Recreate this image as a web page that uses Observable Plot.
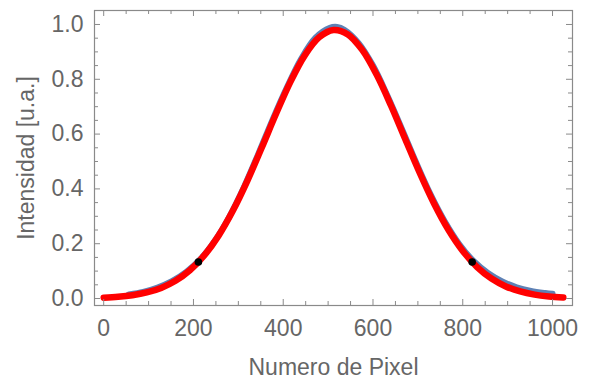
<!DOCTYPE html>
<html>
<head>
<meta charset="utf-8">
<script src="https://cdn.jsdelivr.net/npm/d3@7"></script>
<script src="https://cdn.jsdelivr.net/npm/@observablehq/plot@0.6"></script>
<style>
  html, body { margin: 0; padding: 0; background: #fff; }
  #chart svg { display: block; }
</style>
</head>
<body>
<div id="chart"></div>
<script>
// Measured data (blue)
const dataX = [56, 88, 120, 152, 184, 216, 248, 280, 312, 344, 376, 408, 440, 472, 504, 520, 536, 568, 600, 632, 664, 696, 728, 760, 792, 824, 856, 888, 920, 952, 984, 1000];
const dataY = [0.015, 0.024, 0.040, 0.063, 0.097, 0.145, 0.212, 0.299, 0.405, 0.526, 0.652, 0.770, 0.875, 0.952, 0.988, 0.991, 0.981, 0.932, 0.850, 0.741, 0.621, 0.497, 0.381, 0.281, 0.199, 0.137, 0.093, 0.062, 0.041, 0.028, 0.020, 0.017];

// Fitted curve (red)
const fitX = [0, 32, 64, 96, 128, 160, 192, 224, 256, 288, 320, 352, 384, 416, 448, 480, 512, 544, 576, 608, 640, 672, 704, 736, 768, 800, 832, 864, 896, 928, 960, 992, 1024];
const fitY = [0.0032, 0.0064, 0.0122, 0.0222, 0.0387, 0.0645, 0.1029, 0.1571, 0.2295, 0.3210, 0.4295, 0.5501, 0.6741, 0.7907, 0.8874, 0.9531, 0.9800, 0.9637, 0.9071, 0.8171, 0.7044, 0.5811, 0.4588, 0.3466, 0.2507, 0.1735, 0.1149, 0.0728, 0.0441, 0.0256, 0.0142, 0.0076, 0.0038];

// Marked points (black)
const markX = [211, 821];
const markY = [0.133, 0.133];

// Ticks
const xMajor = [0, 200, 400, 600, 800, 1000];
const xMinor = [50, 100, 150, 250, 300, 350, 450, 500, 550, 650, 700, 750, 850, 900, 950];
const yMajor = [0.0, 0.2, 0.4, 0.6, 0.8, 1.0];
const yMinor = [0.05, 0.1, 0.15, 0.25, 0.3, 0.35, 0.45, 0.5, 0.55, 0.65, 0.7, 0.75, 0.85, 0.9, 0.95];

const xLabel = "Numero de Pixel";
const yLabel = "Intensidad [u.a.]";

const W = 589, H = 381;
const mL = 94, mR = 17, mT = 10, mB = 76;
const iW = W - mL - mR, iH = H - mT - mB;
const gray = "#8a8a8a";
const txt = "#666666";
const fs = 23;

const fit = fitX.map((x, i) => ({x, y: fitY[i]}));
const meas = dataX.map((x, i) => ({x, y: dataY[i]}));
const marks = markX.map((x, i) => ({x, y: markY[i]}));

const chart = Plot.plot({
  width: W,
  height: H,
  marginLeft: mL,
  marginRight: mR,
  marginTop: mT,
  marginBottom: mB,
  style: {fontFamily: "'Liberation Sans', Arial, sans-serif", background: "#fff"},
  x: {domain: [-20.5, 1044.5]},
  y: {domain: [-0.0255, 1.051]},
  marks: [
    Plot.line(meas, {x: "x", y: "y", stroke: "#5E81B5", strokeWidth: 6, curve: "catmull-rom"}),
    Plot.line(fit, {x: "x", y: "y", stroke: "#FF0000", strokeWidth: 6.5, curve: "catmull-rom"}),
    Plot.dot(marks, {x: "x", y: "y", r: 3.8, fill: "black", stroke: "none"}),
    Plot.frame({stroke: gray, strokeWidth: 1.2}),
    // bottom ticks (inward)
    Plot.tickX(xMajor, {x: d => d, stroke: gray, insetTop: iH - 6}),
    Plot.tickX(xMinor, {x: d => d, stroke: gray, insetTop: iH - 4}),
    // top ticks
    Plot.tickX(xMajor, {x: d => d, stroke: gray, insetBottom: iH - 6}),
    Plot.tickX(xMinor, {x: d => d, stroke: gray, insetBottom: iH - 4}),
    // left ticks
    Plot.tickY(yMajor, {y: d => d, stroke: gray, insetRight: iW - 6}),
    Plot.tickY(yMinor, {y: d => d, stroke: gray, insetRight: iW - 4}),
    // right ticks
    Plot.tickY(yMajor, {y: d => d, stroke: gray, insetLeft: iW - 6}),
    Plot.tickY(yMinor, {y: d => d, stroke: gray, insetLeft: iW - 4}),
    Plot.axisX({ticks: xMajor, tickSize: 0, tickPadding: 14, fontSize: fs, fill: txt, label: null, tickFormat: d => String(d)}),
    Plot.axisY({ticks: yMajor, tickSize: 0, tickPadding: 11, fontSize: fs, fill: txt, label: null, tickFormat: d => d.toFixed(1)}),
    Plot.text([xLabel], {text: d => d, frameAnchor: "bottom", dy: 62, textAnchor: "middle", lineAnchor: "middle", fontSize: fs, fill: txt}),
    Plot.text([yLabel], {text: d => d, frameAnchor: "left", dx: -68, rotate: -90, textAnchor: "middle", lineAnchor: "middle", fontSize: fs, fill: txt})
  ]
});
document.getElementById("chart").appendChild(chart);
</script>
</body>
</html>
